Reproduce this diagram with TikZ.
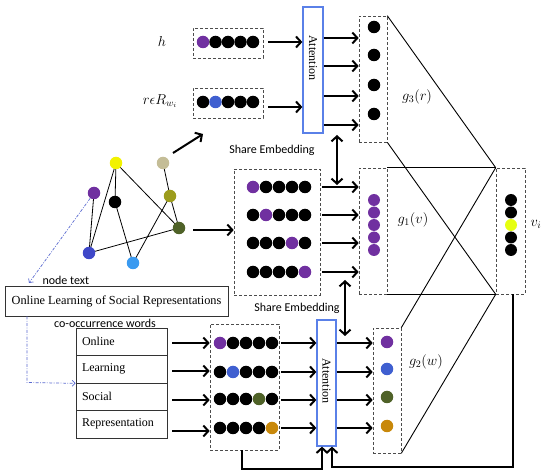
\documentclass[tikz,border=0pt]{standalone}
\usepackage{fontspec}
\setmainfont{Liberation Serif}
\newfontfamily\carl{Carlito}
\usetikzlibrary{arrows.meta}
\definecolor{cpurple}{HTML}{7030A0}
\definecolor{cblue}{HTML}{3F5FD0}
\definecolor{colive}{HTML}{4F6228}
\definecolor{corange}{HTML}{C8880A}
\definecolor{cyellow}{HTML}{F2F200}
\definecolor{cviyel}{HTML}{E6FF10}
\definecolor{ctan}{HTML}{C4BD97}
\definecolor{colivetwo}{HTML}{9C9C1C}
\definecolor{clblue}{HTML}{3A9AF0}
\definecolor{cdblue}{HTML}{3F48C8}
\definecolor{cattn}{HTML}{5A80E8}
\definecolor{cdash}{HTML}{5A6AD0}
\begin{document}
\begin{tikzpicture}[x=1pt,y=-1pt,
  dbox/.style={draw=black!70, dash pattern=on 3pt off 2pt, line width=0.6pt, minimum width=#1, inner sep=0pt},
  attn/.style={draw=cattn, fill=white, line width=1.3pt, inner sep=0pt, minimum height=126pt},
  arr/.style={line width=2pt, -{Straight Barb[length=5pt,width=11pt]}},
  darr/.style={line width=2pt, {Straight Barb[length=5pt,width=11pt]}-{Straight Barb[length=5pt,width=11pt]}},
  fb/.style={line width=2pt},
  dot/.style={circle, inner sep=0pt, minimum size=12.5pt, fill=#1},
  gdot/.style={circle, inner sep=0pt, minimum size=12.5pt, fill=#1},
  edge/.style={line width=0.8pt},
  big/.style={line width=0.9pt},
  dd/.style={draw=cdash, line width=0.7pt, dash pattern=on 3pt off 1.5pt on 0.8pt off 1.5pt},
  lbl/.style={font=\carl\fontsize{12}{14}\selectfont},
  mlbl/.style={font=\fontsize{14}{16}\selectfont},
  word/.style={draw=black!80, line width=0.7pt, minimum width=91pt, minimum height=27.5pt, text width=79pt, align=left, font=\fontsize{12}{14}\selectfont, inner sep=0pt}
]
\useasboundingbox (0,0) rectangle (550,476);

% ---------- top: h and r rows ----------
\node[dbox=70pt, minimum height=30pt] (hbox) at (228,43) {};
\node[dbox=70pt, minimum height=30pt] (rbox) at (228,103) {};
\foreach \i/\c in {1/cpurple,2/black,3/black,4/black,5/black}
  \node[dot=\c] (hd\i) at ({203+12.5*(\i-1)},42) {};
\foreach \i/\c in {1/black,2/cblue,3/black,4/black,5/black}
  \node[dot=\c] (rd\i) at ({203+12.5*(\i-1)},102) {};
\node[mlbl] (hlab) at (162,42) {$h$};
\node[mlbl] (rlab) at (160,101) {$r\epsilon R_{w_i}$};

\node[attn, minimum width=20pt] (attT) at (313,70) {};
\node[rotate=-90, font=\fontsize{12}{14}\selectfont] (attTt) at (313,58) {Attention};

\draw[arr] (268,42) -- (attT.west |- 0,42);
\draw[arr] (268,107) -- (attT.west |- 0,107);

\node[dbox=28pt, minimum height=126pt] (g3box) at (373,79) {};
\foreach \i/\yy in {1/27,2/55,3/85,4/114}
  \node[dot=black] (g3d\i) at (374,\yy) {};
\foreach \yy in {38,66,96,125}
  \draw[arr] (attT.east |- 0,\yy) -- (g3box.west |- 0,\yy);
\node[mlbl] (g3lab) at (417,97) {$g_3(r)$};

% ---------- middle ----------
\node[lbl] (se1) at (272,150) {Share Embedding};
\draw[darr] (337,135) -- (337,185);

\node[dbox=86pt, minimum height=126pt] (ebox) at (277,232) {};
\foreach \r/\yy/\p in {1/187/1,2/215/2,3/243/4,4/272/5}{
  \foreach \i in {1,...,5}{
    \ifnum\i=\p \def\cc{cpurple}\else\def\cc{black}\fi
    \node[dot=\cc] (e\r d\i) at ({253+13*(\i-1)},\yy) {};
  }
}
\node[dbox=28pt, minimum height=126pt] (g1box) at (373,231) {};
\foreach \i in {1,...,5}
  \node[dot=cpurple, minimum size=12pt] (g1d\i) at (374,{200+12.5*(\i-1)}) {};
\foreach \yy in {187,215,243,272}
  \draw[arr] (322,\yy) -- (g1box.west |- 0,\yy);
\node[mlbl] (g1lab) at (413,220) {$g_1(v)$};

\node[dbox=29pt, minimum height=126pt] (vibox) at (510.5,231) {};
\foreach \i/\c in {1/black,2/black,3/cviyel,4/black,5/black}
  \node[dot=\c, minimum size=12pt] (vd\i) at (511,{200+12.5*(\i-1)}) {};
\node[mlbl] (vlab) at (536,224) {$v_i$};

% ---------- graph ----------
\coordinate (cy) at (116,163);
\coordinate (ct) at (163,163);
\coordinate (cp) at (94,193);
\coordinate (ck) at (115,202);
\coordinate (co) at (170,196);
\coordinate (cg) at (179,228);
\coordinate (cb) at (89,253);
\coordinate (cl) at (133,263);
\draw[edge] (cy) -- (cb);
\draw[edge] (cy) -- (ck);
\draw[edge] (cy) -- (cg);
\draw[edge] (cp) -- (cb);
\draw[edge] (ck) -- (cl);
\draw[edge] (ct) -- (co);
\draw[edge] (co) -- (cg);
\draw[edge] (co) -- (cl);
\draw[edge] (cb) -- (cg);
\node[gdot=cyellow] (ny) at (cy) {};
\node[gdot=ctan] (nt) at (ct) {};
\node[gdot=cpurple] (np) at (cp) {};
\node[gdot=black] (nk) at (ck) {};
\node[gdot=colivetwo] (no) at (co) {};
\node[gdot=colive] (ng) at (cg) {};
\node[gdot=cdblue] (nb) at (cb) {};
\node[gdot=clblue] (nl) at (cl) {};

\draw[arr] (173,153) -- (203,134);
\draw[arr] (193,230) -- (ebox.west |- 0,230);

% ---------- node text ----------
\coordinate (ntip) at (29,283);
\draw[dd, -{Straight Barb[length=3pt,width=6pt]}] (np) -- (ntip);
\node[lbl, anchor=west] (ntext) at (39,280) {node text};
\node[draw=black!80, line width=0.7pt, minimum width=223pt, minimum height=30pt, font=\fontsize{12.3}{14}\selectfont] (title) at (116.5,301) {Online Learning of Social Representations};
\node[lbl] (cow) at (105,323) {co-occurrence words};

\node[word] (w1) at (121.5,341.75) {Online};
\node[word] (w2) at (121.5,369.25) {Learning};
\node[word] (w3) at (121.5,396.75) {Social};
\node[word] (w4) at (121.5,424.25) {Representation};
\draw[dd, -{Straight Barb[length=3pt,width=6pt]}] (title.south -| 27,0) -- (27,382.5) -- (w2.south west);

% ---------- bottom ----------
\node[dbox=69pt, minimum height=126pt] (bebox) at (244.5,387) {};
\foreach \r/\yy/\p/\pc in {1/343/1/cpurple,2/372/2/cblue,3/399/4/colive,4/428/5/corange}{
  \foreach \i in {1,...,5}{
    \ifnum\i=\p \def\cc{\pc}\else\def\cc{black}\fi
    \node[dot=\cc] (b\r d\i) at ({220+13*(\i-1)},\yy) {};
  }
}
\foreach \w/\yy in {w1/343,w2/371,w3/400,w4/431}
  \draw[arr] (172,\yy) -- (bebox.west |- 0,\yy);

\node[attn, minimum width=19pt] (attB) at (326.5,383) {};
\node[rotate=-90, font=\fontsize{12}{14}\selectfont] (attBt) at (326.5,381) {Attention};
\node[lbl] (se2) at (297,308) {Share Embedding};
\draw[darr] (345,280) -- (345,336);

\node[dbox=28pt, minimum height=125pt] (g2box) at (387,390.5) {};
\foreach \i/\yy/\c in {1/342/cpurple,2/369/cblue,3/397/colive,4/426/corange}
  \node[dot=\c] (g2d\i) at (387,\yy) {};
\foreach \yy in {343,372,400,428}{
  \draw[arr] (281,\yy) -- (attB.west |- 0,\yy);
  \draw[arr] (attB.east |- 0,\yy) -- (g2box.west |- 0,\yy);
}
\node[mlbl] (g2lab) at (426,362) {$g_2(w)$};

% ---------- big connecting lines ----------
\draw[big] (g3box.north east) -- (vibox.north west);
\draw[big] (g3box.south east) -- (vibox.south west);
\draw[big] (g1box.north east) -- (vibox.north west);
\draw[big] (g1box.south east) -- (vibox.south west);
\draw[big] (g2box.north east) -- (vibox.north west);
\draw[big] (g2box.south east) -- (vibox.south west);

% ---------- feedback ----------
\draw[fb] (vibox.south -| 513,0) -- (513,467) -- (332,467);
\draw[arr] (332,468) -- (attB.south -| 332,0);
\draw[fb] (bebox.south -| 242,0) -- (242,469) -- (322,469);
\draw[arr] (322,470) -- (attB.south -| 322,0);
\end{tikzpicture}
\end{document}
